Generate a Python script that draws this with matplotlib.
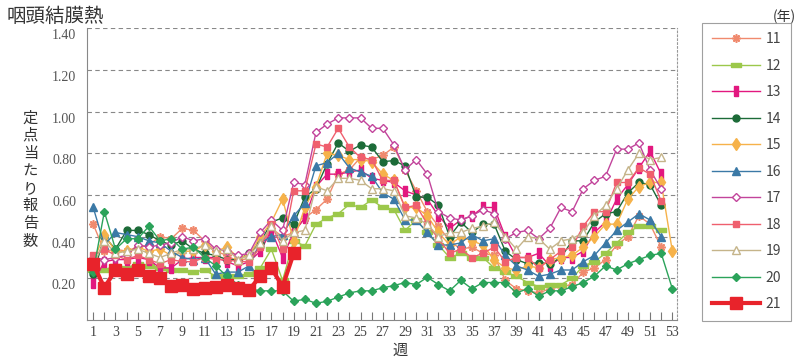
import numpy as np
import matplotlib.pyplot as plt
from matplotlib.transforms import ScaledTranslation

weeks = np.arange(1, 54)

s11 = [0.46, 0.33, 0.34, 0.33, 0.35, 0.36, 0.40, 0.39, 0.44, 0.43, 0.38, 0.33, 0.31, 0.28, 0.30, 0.35, 0.44, 0.40, 0.42,
       0.49, 0.53, 0.58, 0.70, 0.72, 0.78, 0.77, 0.79, 0.83, 0.72, 0.62, 0.52, 0.45, 0.38, 0.34, 0.35, 0.32, 0.31, 0.19,
       0.15, 0.14, 0.13, 0.15, 0.16, 0.17, 0.23, 0.25, 0.29, 0.36, 0.40, 0.50, 0.46, 0.35]
s12 = [0.24, 0.24, 0.26, 0.25, 0.27, 0.26, 0.25, 0.24, 0.24, 0.23, 0.24, 0.21, 0.21, 0.21, 0.22, 0.25, 0.34, 0.19, 0.38,
       0.355, 0.46, 0.49, 0.51, 0.555, 0.54, 0.576, 0.54, 0.53, 0.43, 0.48, 0.42, 0.36, 0.30, 0.32, 0.30, 0.30, 0.25,
       0.23, 0.21, 0.18, 0.16, 0.17, 0.17, 0.20, 0.26, 0.28, 0.32, 0.37, 0.42, 0.45, 0.45, 0.43]
s13 = [0.18, 0.28, 0.29, 0.29, 0.30, 0.29, 0.25, 0.25, 0.29, 0.30, 0.30, 0.30, 0.28, 0.26, 0.28, 0.33, 0.43, 0.30, 0.42,
       0.49, 0.64, 0.70, 0.70, 0.71, 0.72, 0.68, 0.67, 0.66, 0.62, 0.60, 0.58, 0.50, 0.44, 0.48, 0.50, 0.54, 0.54, 0.40,
       0.30, 0.30, 0.32, 0.26, 0.30, 0.30, 0.33, 0.42, 0.47, 0.58, 0.65, 0.73, 0.81, 0.70]
s14 = [0.22, 0.40, 0.34, 0.43, 0.43, 0.41, 0.38, 0.36, 0.38, 0.34, 0.32, 0.31, 0.29, 0.29, 0.32, 0.37, 0.47, 0.49, 0.46,
       0.59, 0.63, 0.75, 0.85, 0.81, 0.84, 0.83, 0.76, 0.765, 0.74, 0.59, 0.59, 0.55, 0.40, 0.47, 0.42, 0.46, 0.46, 0.33,
       0.29, 0.27, 0.275, 0.27, 0.30, 0.38, 0.38, 0.47, 0.51, 0.52, 0.61, 0.66, 0.65, 0.55]
s15 = [0.28, 0.41, 0.33, 0.33, 0.35, 0.33, 0.34, 0.31, 0.33, 0.33, 0.36, 0.33, 0.35, 0.30, 0.31, 0.40, 0.47, 0.58, 0.38,
       0.54, 0.64, 0.80, 0.79, 0.77, 0.77, 0.76, 0.70, 0.67, 0.54, 0.54, 0.50, 0.42, 0.36, 0.40, 0.38, 0.36, 0.29, 0.25,
       0.24, 0.26, 0.25, 0.29, 0.30, 0.31, 0.35, 0.40, 0.46, 0.46, 0.58, 0.64, 0.66, 0.66, 0.33]
s16 = [0.54, 0.36, 0.42, 0.41, 0.40, 0.38, 0.37, 0.33, 0.30, 0.29, 0.30, 0.22, 0.23, 0.23, 0.26, 0.37, 0.40, 0.41, 0.50,
       0.56, 0.74, 0.755, 0.80, 0.73, 0.71, 0.69, 0.61, 0.58, 0.48, 0.48, 0.42, 0.36, 0.36, 0.37, 0.41, 0.38, 0.39, 0.31,
       0.26, 0.24, 0.21, 0.22, 0.24, 0.24, 0.28, 0.31, 0.37, 0.43, 0.47, 0.51, 0.48, 0.40]
s17 = [0.30, 0.29, 0.30, 0.31, 0.36, 0.35, 0.36, 0.37, 0.40, 0.38, 0.39, 0.34, 0.33, 0.31, 0.32, 0.42, 0.48, 0.43, 0.66,
       0.65, 0.90, 0.94, 0.97, 0.97, 0.97, 0.92, 0.92, 0.84, 0.72, 0.77, 0.70, 0.52, 0.49, 0.48, 0.50, 0.53, 0.51, 0.39,
       0.42, 0.43, 0.39, 0.44, 0.54, 0.52, 0.63, 0.67, 0.69, 0.82, 0.82, 0.85, 0.72, 0.63]
s18 = [0.31, 0.34, 0.31, 0.29, 0.31, 0.29, 0.27, 0.29, 0.28, 0.28, 0.30, 0.29, 0.29, 0.28, 0.28, 0.35, 0.46, 0.34, 0.62,
       0.62, 0.845, 0.83, 0.92, 0.83, 0.78, 0.77, 0.67, 0.67, 0.54, 0.55, 0.46, 0.39, 0.32, 0.34, 0.30, 0.32, 0.35, 0.28,
       0.30, 0.30, 0.25, 0.29, 0.33, 0.35, 0.45, 0.52, 0.52, 0.66, 0.66, 0.73, 0.70, 0.57]
s19 = [0.26, 0.38, 0.32, 0.33, 0.34, 0.32, 0.30, 0.32, 0.34, 0.34, 0.36, 0.33, 0.34, 0.29, 0.31, 0.37, 0.45, 0.38, 0.42,
       0.43, 0.64, 0.62, 0.68, 0.68, 0.67, 0.63, 0.63, 0.62, 0.50, 0.49, 0.46, 0.40, 0.42, 0.42, 0.44, 0.45, 0.47, 0.40,
       0.34, 0.40, 0.39, 0.34, 0.38, 0.39, 0.42, 0.50, 0.55, 0.63, 0.72, 0.80, 0.77, 0.78]
s20 = [0.23, 0.52, 0.34, 0.39, 0.39, 0.45, 0.38, 0.39, 0.34, 0.35, 0.30, 0.26, 0.21, 0.17, 0.15, 0.14, 0.14, 0.14, 0.09,
       0.10, 0.08, 0.09, 0.11, 0.13, 0.14, 0.14, 0.155, 0.165, 0.18, 0.17, 0.205, 0.17, 0.14, 0.19, 0.15, 0.18, 0.18,
       0.18, 0.13, 0.15, 0.115, 0.14, 0.14, 0.16, 0.18, 0.21, 0.26, 0.24, 0.27, 0.29, 0.31, 0.32, 0.15]
s21 = [0.27, 0.155, 0.24, 0.22, 0.24, 0.21, 0.20, 0.165, 0.17, 0.15, 0.155, 0.16, 0.17, 0.155, 0.145, 0.21, 0.25, 0.16,
       0.32]

years = ['11', '12', '13', '14', '15', '16', '17', '18', '19', '20', '21']
series = [s11, s12, s13, s14, s15, s16, s17, s18, s19, s20, s21]

colors = ['#f08a6e', '#9cc84b', '#e2187f', '#1c6b38', '#f6b24a', '#3b79a6',
          '#c2449b', '#ef5f6e', '#c5b48a', '#2ba35a', '#e8232b']
hbar = [(-1, -0.45), (1, -0.45), (1, 0.45), (-1, 0.45), (-1, -0.45)]
vbar = [(-0.35, -1), (0.35, -1), (0.35, 1), (-0.35, 1), (-0.35, -1)]
markers = [(8, 2, 0), hbar, vbar, 'o', 'd', '^', 'D', 's', '^', 'D', 's']
msizes = [6, 6.5, 7, 5, 6, 5.5, 4.5, 5, 6, 4.2, 8]
filled = [True, True, True, True, True, True, False, True, False, True, True]

plt.rcParams['font.family'] = ['Noto Sans CJK JP', 'DejaVu Sans']

fig = plt.figure(figsize=(8, 3.59), dpi=100)
ax = fig.add_axes([0.109, 0.1086, 0.737, 0.8126])

for vals, lab, c, m, ms, f in zip(series, years, colors, markers, msizes, filled):
    y = np.full(len(weeks), np.nan)
    y[:len(vals)] = vals
    lw = 3 if lab == '21' else 1.0
    ax.plot(weeks, y, color=c, lw=lw, marker=m, markersize=ms,
            markerfacecolor=c if f else 'white', markeredgecolor=c,
            markeredgewidth=1.2 if m == (8, 2, 0) else 1.0, label=lab,
            zorder=5 if lab == '21' else 3)

ax.set_xlim(0.46, 53.4)
ax.set_ylim(0, 1.4)
ax.set_xticks(weeks)
ax.set_xticklabels([str(w) if w % 2 else '' for w in weeks],
                   family='Liberation Serif', fontsize=10, color='#444')
yt = [0.2, 0.4, 0.6, 0.8, 1.0, 1.2, 1.4]
ax.set_yticks(yt)
ax.set_yticklabels(['%.2f' % v for v in yt], family='Liberation Serif', fontsize=10, color='#555')
ax.tick_params(axis='x', direction='in', length=6, width=0.8, color='#777', pad=4)
ax.tick_params(axis='y', length=0, pad=8)
# labels in the source sit a little below their gridlines
shift = ScaledTranslation(0, -6 / 100, fig.dpi_scale_trans)
for t in ax.get_yticklabels():
    t.set_transform(t.get_transform() + shift)
ax.grid(axis='y', linestyle=(0, (4, 3)), color='#888', lw=0.8)
ax.set_axisbelow(True)

ax.spines['top'].set_visible(False)
ax.spines['left'].set_color('#888')
ax.spines['bottom'].set_color('#888')
ax.spines['right'].set_linestyle((0, (1.5, 2)))
ax.spines['right'].set_color('#999')
ax.spines['right'].set_linewidth(0.8)

fig.text(0.008, 0.955, '咽頭結膜熱', fontsize=14, color='#333', va='center', ha='left')
fig.text(0.038, 0.50, '\n'.join('定点当たり報告数'), fontsize=11, color='#333',
         ha='center', va='center', linespacing=1.05)
fig.text(0.5, 0.025, '週', fontsize=11, color='#333', ha='center', va='center')
fig.text(0.981, 0.953, '(年)', fontsize=10, color='#333', ha='center', va='center')

leg = fig.legend(loc='upper left', bbox_to_anchor=(0.8775, 0.937), frameon=True,
                 fancybox=False, edgecolor='#888', fontsize=10, labelspacing=0.9,
                 handlelength=3.5, borderpad=0.7, handletextpad=0.4, borderaxespad=0)
leg.get_frame().set_linewidth(0.8)
for t in leg.get_texts():
    t.set_color('#444')

fig.savefig('out.png', dpi=100)
